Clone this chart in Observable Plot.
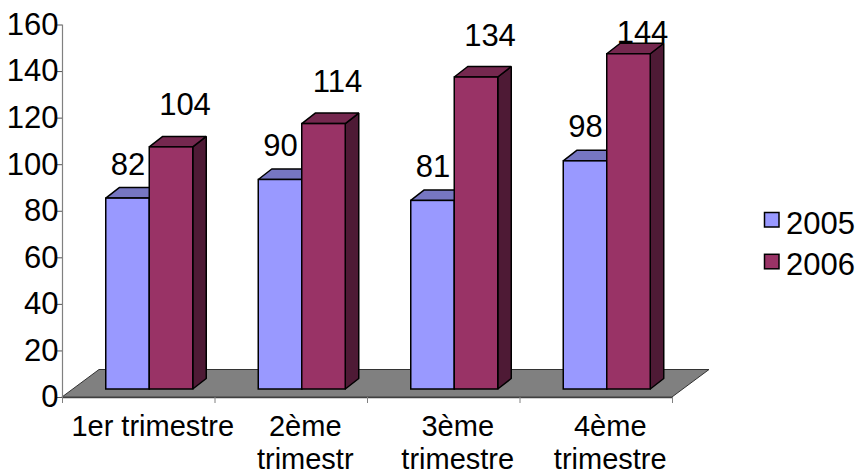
<!DOCTYPE html>
<html><head><meta charset="utf-8">
<script src="https://cdn.jsdelivr.net/npm/d3@7"></script>
<script src="https://cdn.jsdelivr.net/npm/@observablehq/plot@0.6"></script>
<style>
body{margin:0;background:#fff;}
#wrap{position:relative;width:861px;height:476px;font-family:"Liberation Sans",Arial,sans-serif;}
#legend{position:absolute;left:0;top:0;pointer-events:none;}
</style></head><body><div id="wrap"></div>
<script>
// ---- data ----
const quarters = ["1er trimestre", "2ème\ntrimestr", "3ème\ntrimestre", "4ème\ntrimestre"];
const series = ["2005", "2006"];
const values2005 = [82, 90, 81, 98];
const values2006 = [104, 114, 134, 144];
const yTicks = [0, 20, 40, 60, 80, 100, 120, 140, 160];

// ---- styles / layout ----
const palette = {
  "2005": {front: "#9999ff", top: "#7676c2", side: "#4d4d80"},
  "2006": {front: "#993366", top: "#75284f", side: "#4e1a35"}
};
const FS = 31, FSX = 29;
const W = 861, H = 476, ML = 62, MR = 189, MT = 24.5, MB = 79;
const kx = (W - ML - MR) / quarters.length;   // px per x unit
const ky = (H - MT - MB) / 160;               // px per y unit
const barW = 43.5 / kx;                        // bar width in x units
const depX = 13.5 / kx, depY = 10.5 / ky;      // bar depth
const floorX = 37 / kx, floorY = 27.5 / ky;    // floor depth
const frontDx = 11, frontDy = -8;              // bar front plane offset (px)

const seriesValues = [values2005, values2006];
const bars = [];
series.forEach((s, si) => {
  quarters.forEach((q, i) => {
    const x1 = i + 0.5 + (si - 1) * barW;
    bars.push({series: s, si, q, i, v: seriesValues[si][i], x1, x2: x1 + barW});
  });
});

function barMarks(s) {
  const rows = bars.filter(d => d.series === s);
  const c = palette[s];
  const sidePts = rows.flatMap(d => [
    {id: d.i, x: d.x2, y1: 0, y2: d.v},
    {id: d.i, x: d.x2 + depX, y1: depY, y2: d.v + depY}
  ]);
  const topPts = rows.flatMap(d => [
    {id: d.i, y: d.v, x1: d.x1, x2: d.x2},
    {id: d.i, y: d.v + depY, x1: d.x1 + depX, x2: d.x2 + depX}
  ]);
  const common = {stroke: "black", strokeWidth: 1.5, strokeLinejoin: "miter", dx: frontDx, dy: frontDy};
  return [
    Plot.areaY(sidePts, {x: "x", y1: "y1", y2: "y2", z: "id", fill: c.side, ...common}),
    Plot.areaX(topPts, {y: "y", x1: "x1", x2: "x2", z: "id", fill: c.top, ...common}),
    Plot.rect(rows, {x1: "x1", x2: "x2", y1: 0, y2: "v", fill: c.front, ...common})
  ];
}

const labelLift = {"2005": 24, "2006": 32};
const labelShift = {"2005": 0, "2006": 13.5};
const labelClamp = (H - MB - 42.7) / ky;

function valueLabels(s) {
  return Plot.text(bars.filter(d => d.series === s), {
    x: d => (d.x1 + d.x2) / 2,
    y: d => Math.min(d.v + (-frontDy + labelLift[s]) / ky, labelClamp),
    text: d => String(d.v),
    dx: frontDx + labelShift[s],
    lineAnchor: "bottom", fontSize: FS, fill: "black"
  });
}

const floorPts = [
  {y: 0, x1: 0, x2: quarters.length},
  {y: floorY, x1: floorX, x2: quarters.length + floorX}
];

const chart = Plot.plot({
  width: W, height: H,
  marginLeft: ML, marginRight: MR, marginTop: MT, marginBottom: MB,
  style: {fontFamily: "'Liberation Sans', Arial, sans-serif", fontSize: FS + "px", color: "black", background: "white", overflow: "visible"},
  x: {type: "linear", domain: [0, quarters.length]},
  y: {type: "linear", domain: [0, 160]},
  marks: [
    Plot.areaX(floorPts, {y: "y", x1: "x1", x2: "x2", fill: "#808080", stroke: "#333", strokeWidth: 1}),
    Plot.ruleY([0], {stroke: "#404040", strokeWidth: 1.5}),
    ...barMarks("2005"),
    ...barMarks("2006"),
    Plot.ruleX([0], {stroke: "#808080", strokeWidth: 1.2}),
    Plot.axisY({ticks: yTicks, tickSize: 5, tickPadding: -1, label: null, stroke: "#555", fontSize: FS}),
    Plot.axisX({ticks: [0, 1, 2, 3, 4], tickSize: 6, tickFormat: () => "", label: null, stroke: "#808080"}),
    Plot.text(quarters.map((q, i) => ({x: i + 0.5, label: q})), {
      x: "x", text: "label", frameAnchor: "bottom", lineAnchor: "top",
      dx: frontDx + 3, dy: 15.9, fontSize: FSX, lineHeight: 1.12, fill: "black"
    }),
    valueLabels("2005"),
    valueLabels("2006")
  ]
});
document.getElementById("wrap").appendChild(chart);
</script>
<script>
// Legend
const lg = d3.select("#wrap").append("svg").attr("id", "legend").attr("width", W).attr("height", H);
series.forEach((s, i) => {
  const y = 212.5 + i * 41.8;
  lg.append("rect").attr("x", 764.5).attr("y", y).attr("width", 14.5).attr("height", 14.5)
    .attr("fill", palette[s].front).attr("stroke", "black").attr("stroke-width", 1.5);
  lg.append("text").attr("x", 786).attr("y", y + 21).text(s)
    .attr("font-family", "'Liberation Sans', Arial, sans-serif").attr("font-size", FS).attr("fill", "black");
});
</script>
</body></html>
